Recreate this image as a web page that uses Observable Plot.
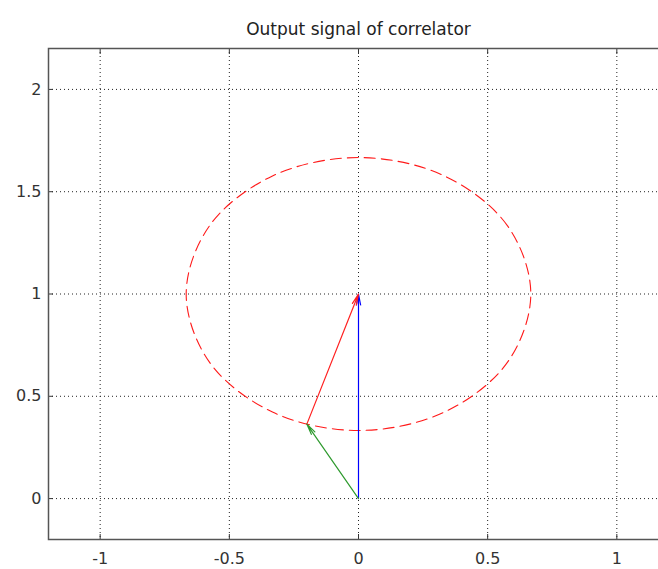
<!DOCTYPE html>
<html>
<head>
<meta charset="utf-8">
<script src="https://cdn.jsdelivr.net/npm/d3@7"></script>
<script src="https://cdn.jsdelivr.net/npm/@observablehq/plot@0.6"></script>
<style>
  html, body { margin: 0; padding: 0; background: #fff; overflow: hidden; }
  #wrap { width: 658px; height: 569px; overflow: hidden; position: relative; }
  #wrap svg { max-width: none !important; display: block; }
</style>
</head>
<body>
<div id="wrap"></div>
<script>
const title = "Output signal of correlator";
const xTicks = [-1, -0.5, 0, 0.5, 1];
const yTicks = [0, 0.5, 1, 1.5, 2];
const xTickLabels = ["-1", "-0.5", "0", "0.5", "1"];
const yTickLabels = ["0", "0.5", "1", "1.5", "2"];

// dashed circle points (closed curve)
const circleX = [0.667, 0.577, 0.333, 0, -0.333, -0.577, -0.667, -0.577, -0.333, 0, 0.333, 0.577];
const circleY = [1, 1.333, 1.577, 1.667, 1.577, 1.333, 1, 0.667, 0.423, 0.333, 0.423, 0.667];

// vectors: start (x1, y1) -> end (x2, y2)
const vecNames = ["blue", "red", "green"];
const vecX1 = [0, -0.2, 0];
const vecY1 = [0, 0.364, 0];
const vecX2 = [0, 0, -0.2];
const vecY2 = [1, 1, 0.364];
const vecColors = ["#0000ff", "#ff2020", "#2e9a2e"];

const circle = circleX.map((x, i) => ({x, y: circleY[i]}));
const vecs = vecNames.map((n, i) => ({x1: vecX1[i], y1: vecY1[i], x2: vecX2[i], y2: vecY2[i], c: vecColors[i]}));

const W = 670, H = 569;
const FONT = "DejaVu Sans, Liberation Sans, Arial, sans-serif";
const plot = Plot.plot({
  width: W,
  height: H,
  marginLeft: 48,
  marginRight: 2,
  marginTop: 48,
  marginBottom: 30,
  style: {fontFamily: FONT, fontSize: "16px", background: "#fff", overflow: "visible", maxWidth: "none"},
  x: {domain: [-1.2, 1.2], axis: null},
  y: {domain: [-0.2, 2.2], axis: null},
  marks: [
    // dotted grid
    Plot.ruleX(xTicks, {stroke: "#222", strokeDasharray: "1,3", strokeWidth: 1}),
    Plot.ruleY(yTicks, {stroke: "#222", strokeDasharray: "1,3", strokeWidth: 1}),
    // inward ticks and labels
    Plot.axisX(xTicks, {anchor: "bottom", tickSize: -5, tickFormat: (d) => xTickLabels[xTicks.indexOf(d)], tickPadding: 18, stroke: "#333", fill: "#333", fontSize: 16, label: null}),
    Plot.axisX(xTicks, {anchor: "top", tickSize: -5, text: null, stroke: "#333", label: null}),
    Plot.axisY(yTicks, {anchor: "left", tickSize: -5, tickFormat: (d) => yTickLabels[yTicks.indexOf(d)], tickPadding: 12, stroke: "#333", fill: "#333", fontSize: 16, label: null}),
    // dashed circle
    Plot.line(circle, {x: "x", y: "y", curve: "catmull-rom-closed", stroke: "#ff1a1a", strokeWidth: 1.1, strokeDasharray: "11,6"}),
    // vectors
    Plot.arrow(vecs, {x1: "x1", y1: "y1", x2: "x2", y2: "y2", stroke: "c", strokeWidth: 1.2, headLength: 14, headAngle: 22}),
    // frame
    Plot.frame({stroke: "#555", strokeWidth: 1.5}),
    // title
    Plot.text([title], {frameAnchor: "top", dy: -26, text: d => d, fontSize: 17, fill: "#222"})
  ]
});
document.getElementById("wrap").appendChild(plot);
</script>
</body>
</html>
